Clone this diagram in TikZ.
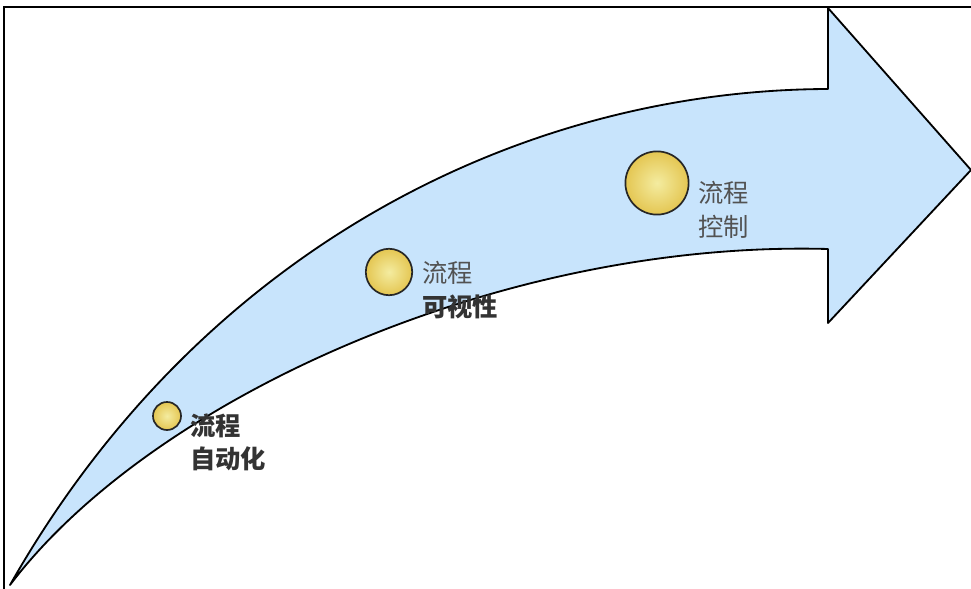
\documentclass[tikz,border=0pt]{standalone}
\usepackage{fontspec}
\newfontfamily\cjk{Noto Sans CJK SC}
\usetikzlibrary{positioning}
\definecolor{bandblue}{RGB}{200,228,252}
\definecolor{dotin}{RGB}{244,236,160}
\definecolor{dotout}{RGB}{228,198,82}
\tikzset{dot node/.style={circle,draw=black!85,line width=1.2pt,inner color=dotin,outer color=dotout,inner sep=0pt},
  step label/.style={font=\cjk\fontsize{18}{24}\selectfont,text=black!68,align=left,inner sep=0pt,anchor=north west},
}

\begin{document}
\begin{tikzpicture}[x=0.025cm,y=-0.025cm]
  \useasboundingbox (0,0) rectangle (971,589);
  % frame
  \draw[line width=1.4pt] (4,589) -- (4,7) -- (971,7);
  % curved arrow
  \filldraw[fill=bandblue,draw=black,line width=1.3pt,line join=round]
    (10,585) .. controls (200,250) and (520,90) .. (828,89)
    -- (828,8) -- (971,170) -- (828,323) -- (828,249)
    .. controls (500,240) and (150,400) .. cycle;

  \node[dot node,minimum size=0.7cm] (d1) at (167,416) {};
  \node[dot node,minimum size=1.16cm] (d2) at (389,272) {};
  \node[dot node,minimum size=1.58cm] (d3) at (657,183) {};

  \node[step label,text=black!80,font=\cjk\bfseries\fontsize{18}{24}\selectfont] (t1) at (190,413) {流程\\自动化};
  \node[step label] (t2) at (422,261) {流程\\\textbf{\color{black!80}可视性}};
  \node[step label] (t3) at (698,181) {流程\\控制};
\end{tikzpicture}
\end{document}
